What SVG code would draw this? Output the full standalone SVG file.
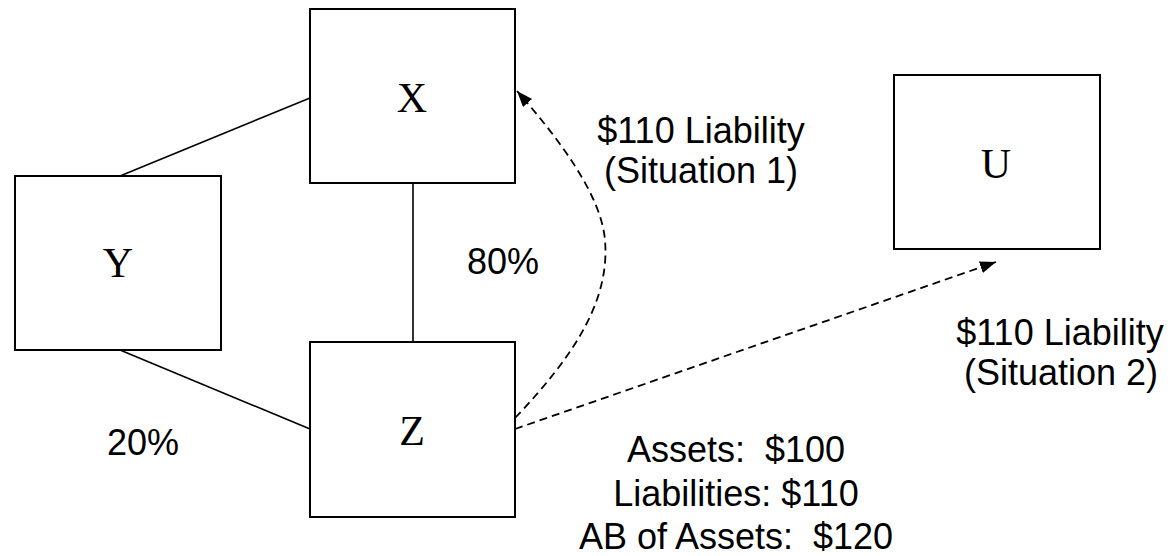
<svg xmlns="http://www.w3.org/2000/svg" width="1171" height="556" viewBox="0 0 1171 556">
<style>
.box{fill:#fff;stroke:#000;stroke-width:2}
.lbl{font-family:"Liberation Serif","Times New Roman",serif;font-size:42px;fill:#000;text-anchor:middle}
.txt{font-family:"Liberation Sans",Arial,sans-serif;font-size:36px;fill:#000;text-anchor:middle;white-space:pre}
.ln{stroke:#000;stroke-width:1.6;fill:none}
.dash{stroke:#000;stroke-width:1.8;fill:none;stroke-dasharray:8 5}
</style>
<defs>
<marker id="ah" markerUnits="userSpaceOnUse" markerWidth="18" markerHeight="14" refX="16" refY="6" orient="auto">
<path d="M0,0 L16,6 L0,12 z" fill="#000"/>
</marker>
</defs>
<rect width="1171" height="556" fill="#fff"/>
<g id="connectors">
<line class="ln" x1="120" y1="176" x2="310" y2="98"/>
<line class="ln" x1="120" y1="350" x2="310" y2="429"/>
<line class="ln" x1="413" y1="183" x2="413" y2="342"/>
<path class="dash" d="M515,418 C575,355 610,300 605,240 C601,195 560,140 517,91" marker-end="url(#ah)"/>
<line class="dash" x1="515" y1="429" x2="996" y2="262" marker-end="url(#ah)"/>
</g>
<g id="node-x">
<rect class="box" x="310" y="9" width="205" height="174"/>
<text class="lbl" x="412" y="112">X</text>
</g>
<g id="node-y">
<rect class="box" x="15" y="176" width="206" height="174"/>
<text class="lbl" x="118" y="277">Y</text>
</g>
<g id="node-z">
<rect class="box" x="310" y="342" width="205" height="175"/>
<text class="lbl" x="412" y="445">Z</text>
</g>
<g id="node-u">
<rect class="box" x="894" y="75" width="206" height="174"/>
<text class="lbl" x="996" y="178">U</text>
</g>
<g id="labels">
<text class="txt" x="701" y="143">$110 Liability</text>
<text class="txt" x="701" y="183">(Situation 1)</text>
<text class="txt" x="503" y="274">80%</text>
<text class="txt" x="143" y="455">20%</text>
<text class="txt" x="1060" y="345">$110 Liability</text>
<text class="txt" x="1061" y="385">(Situation 2)</text>
<text class="txt" x="736" y="462">Assets:  $100</text>
<text class="txt" x="736" y="506">Liabilities: $110</text>
<text class="txt" x="736" y="549">AB of Assets:  $120</text>
</g>
</svg>
